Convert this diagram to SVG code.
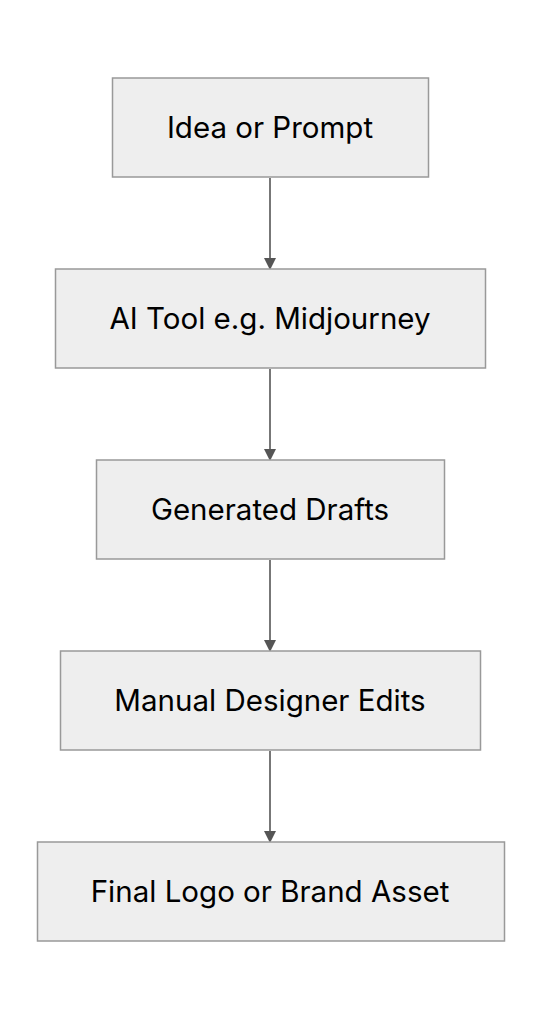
<svg xmlns="http://www.w3.org/2000/svg" width="542" height="1020" viewBox="0 0 542 1020">
<style>
.box{fill:#eeeeee;stroke:#999999;stroke-width:1.5}
.lbl{font-family:Inter,"Noto Sans",sans-serif;font-size:29.5px;fill:#000;text-anchor:middle;dominant-baseline:central}
.edge{stroke:#777777;stroke-width:2;fill:none;marker-end:url(#arr)}
</style>
<defs>
<marker id="arr" markerWidth="12" markerHeight="12" refX="10" refY="6" orient="auto" markerUnits="userSpaceOnUse"><path d="M0,0 L12,6 L0,12 Z" fill="#555555"/></marker>
</defs>
<rect width="542" height="1020" fill="#ffffff"/>
<g id="connectors">
<path class="edge" d="M270,178 L270,268"/>
<path class="edge" d="M270,369 L270,459"/>
<path class="edge" d="M270,560 L270,650"/>
<path class="edge" d="M270,751 L270,841"/>
</g>
<g id="n1"><rect class="box" x="112.5" y="78" width="316" height="99"/><text class="lbl" x="270" y="127">Idea or Prompt</text></g>
<g id="n2"><rect class="box" x="55.5" y="269" width="430" height="99"/><text class="lbl" x="270" y="318">AI Tool e.g. Midjourney</text></g>
<g id="n3"><rect class="box" x="96.5" y="460" width="348" height="99"/><text class="lbl" x="270" y="509">Generated Drafts</text></g>
<g id="n4"><rect class="box" x="60.5" y="651" width="420" height="99"/><text class="lbl" x="270" y="700">Manual Designer Edits</text></g>
<g id="n5"><rect class="box" x="37.5" y="842" width="467" height="99"/><text class="lbl" x="270" y="891">Final Logo or Brand Asset</text></g>
</svg>
